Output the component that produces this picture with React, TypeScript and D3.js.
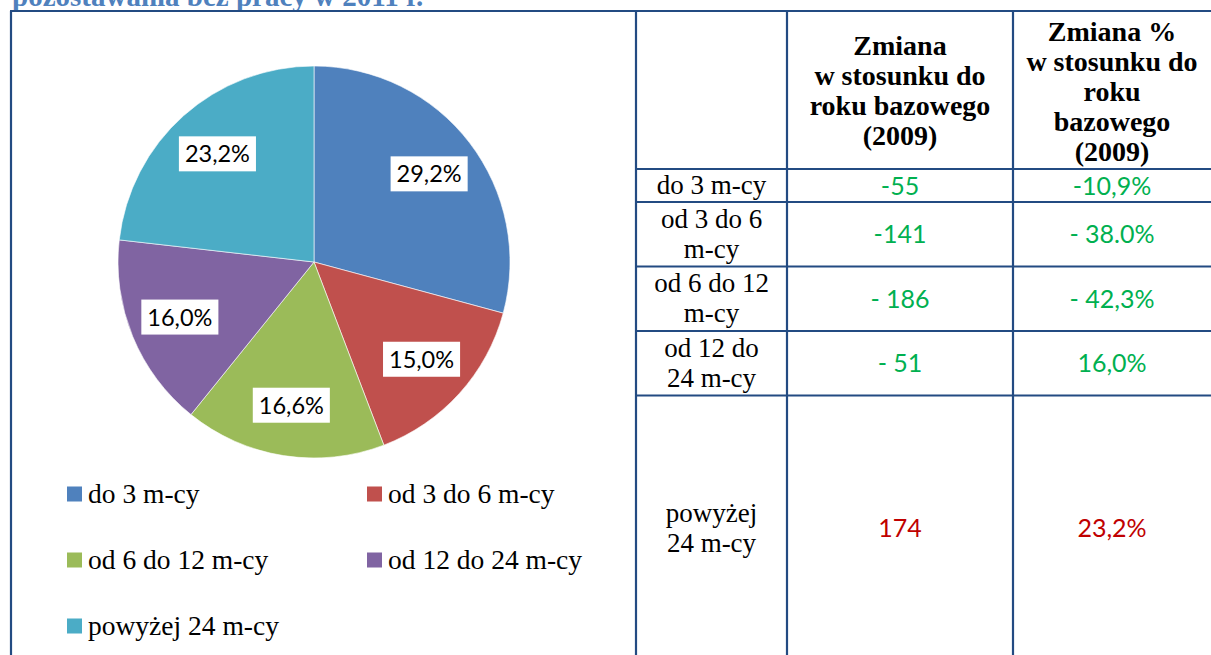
import React, { useEffect, useRef } from 'react';
import * as d3 from 'd3';

// okres pozostawania bez pracy – struktura i zmiana wzgledem 2009
const categories = ['do 3 m-cy', 'od 3 do 6 m-cy', 'od 6 do 12 m-cy', 'od 12 do 24 m-cy', 'powyżej 24 m-cy'];
const shares = [29.2, 15.0, 16.6, 16.0, 23.2];
const shareLabels = ['29,2%', '15,0%', '16,6%', '16,0%', '23,2%'];
const rowLabels = [['do 3 m-cy'], ['od 3 do 6', 'm-cy'], ['od 6 do 12', 'm-cy'], ['od 12 do', '24 m-cy'], ['powyżej', '24 m-cy']];
const absChange = ['-55', '-141', '- 186', '- 51', '174'];
const pctChange = ['-10,9%', '- 38.0%', '- 42,3%', '16,0%', '23,2%'];
const isIncrease = [false, false, false, false, true];
const headerAbs = ['Zmiana', 'w stosunku do', 'roku bazowego', '(2009)'];
const headerPct = ['Zmiana %', 'w stosunku do', 'roku', 'bazowego', '(2009)'];
const title = 'pozostawania bez pracy w 2011 r.';

const W = 1211;
const H = 655;
const SERIF = '"Liberation Serif", serif';
const SANS = 'Lato, sans-serif';
const BORDER = '#234B82';
const colors = ['#4F81BD', '#C0504D', '#9BBB59', '#8064A2', '#4BACC6'];

const App = () => {
    const ref = useRef<SVGSVGElement>(null);

    useEffect(() => {
        const svg = d3.select(ref.current);
        svg.selectAll('*').remove();

        // caption above the table, cut off by the top edge
        svg.append('text')
            .attr('x', 12).attr('y', 6)
            .attr('font-family', SERIF).attr('font-weight', 'bold').attr('font-size', 29)
            .attr('fill', '#4F81BD')
            .text(title);

        // ---- pie ----
        const cx = 314, cy = 262, r = 196;
        const pie = d3.pie<number>().sort(null).value(d => d);
        const arcs = pie(shares);
        const arc = d3.arc<d3.PieArcDatum<number>>().innerRadius(0).outerRadius(r);
        const labelArc = d3.arc<d3.PieArcDatum<number>>().innerRadius(145).outerRadius(145);

        const g = svg.append('g').attr('transform', `translate(${cx},${cy})`);
        g.selectAll('path')
            .data(arcs)
            .enter().append('path')
            .attr('d', arc)
            .attr('fill', (d, i) => colors[i])
            .attr('stroke', '#fff')
            .attr('stroke-width', 0.6);

        const lab = g.selectAll('g.lab')
            .data(arcs)
            .enter().append('g')
            .attr('class', 'lab')
            .attr('transform', d => `translate(${labelArc.centroid(d)})`);
        lab.append('rect').attr('fill', '#fff');
        lab.append('text')
            .attr('text-anchor', 'middle')
            .attr('dy', '0.36em')
            .attr('font-family', SANS).attr('font-size', 23.5)
            .attr('fill', '#000')
            .text((d, i) => shareLabels[i]);
        lab.each(function () {
            const t = d3.select(this).select('text').node() as SVGTextElement;
            const w = t.getComputedTextLength() + 12;
            d3.select(this).select('rect')
                .attr('x', -w / 2).attr('y', -17.5)
                .attr('width', w).attr('height', 35);
        });

        // ---- legend ----
        const legX = [67, 367];
        const legY = [494, 560, 626];
        const leg = svg.selectAll('g.leg')
            .data(categories)
            .enter().append('g')
            .attr('class', 'leg')
            .attr('transform', (d, i) => `translate(${legX[i % 2]},${legY[Math.floor(i / 2)]})`);
        leg.append('rect')
            .attr('x', 0).attr('y', -7.5).attr('width', 15).attr('height', 15)
            .attr('fill', (d, i) => colors[i]);
        leg.append('text')
            .attr('x', 21).attr('dy', '0.33em')
            .attr('font-family', SERIF).attr('font-size', 27.5)
            .text(d => d);

        // ---- table ----
        const colX = [636, 787, 1013, W];
        const headTop = 11, headBottom = 169, tableBottom = 661;
        const lineH = 30;
        const rowTops: number[] = [headBottom];
        rowLabels.forEach((lines, i) => {
            const h = i === rowLabels.length - 1 ? tableBottom - rowTops[i] : lines.length * 31.5 + 1.5;
            rowTops.push(rowTops[i] + h);
        });

        const centerLines = (xc: number, yTop: number, yBot: number, lines: string[], opts: any) => {
            const mid = (yTop + yBot) / 2;
            const start = mid - (lines.length - 1) * lineH / 2;
            lines.forEach((s, k) => {
                svg.append('text')
                    .attr('x', xc).attr('y', start + k * lineH)
                    .attr('dy', opts.dy)
                    .attr('text-anchor', 'middle')
                    .attr('font-family', opts.font)
                    .attr('font-weight', opts.weight || 'normal')
                    .attr('font-size', opts.size)
                    .attr('fill', opts.fill || '#000')
                    .text(s);
            });
        };

        const mid = (a: number, b: number) => (a + b) / 2;
        centerLines(mid(colX[1], colX[2]), headTop, headBottom, headerAbs, { font: SERIF, weight: 'bold', size: 28, dy: '0.34em' });
        centerLines(mid(colX[2], colX[3]), headTop, headBottom + 2, headerPct, { font: SERIF, weight: 'bold', size: 28, dy: '0.34em' });

        rowLabels.forEach((lines, i) => {
            const t = rowTops[i], b = rowTops[i + 1];
            const fill = isIncrease[i] ? '#C00000' : '#00B050';
            centerLines(mid(colX[0], colX[1]), t, b, lines, { font: SERIF, size: 27, dy: '0.32em' });
            centerLines(mid(colX[1], colX[2]), t, b, [absChange[i]], { font: SANS, size: 25, dy: '0.36em', fill });
            centerLines(mid(colX[2], colX[3]), t, b, [pctChange[i]], { font: SANS, size: 25, dy: '0.36em', fill });
        });

        // grid lines
        const line = (x1: number, y1: number, x2: number, y2: number) =>
            svg.append('line')
                .attr('x1', x1).attr('y1', y1).attr('x2', x2).attr('y2', y2)
                .attr('stroke', BORDER).attr('stroke-width', 2.2);
        line(10, headTop, W, headTop);
        line(11, headTop, 11, tableBottom);
        colX.slice(0, 3).forEach(x => line(x, headTop, x, tableBottom));
        rowTops.slice(0, -1).forEach(y => line(colX[0], y, W, y));
    }, []);

    return (
        <svg ref={ref} width={W} height={H}
            style={{ position: 'absolute', left: 0, top: 0, background: '#fff' }} />
    );
};

export default App;
